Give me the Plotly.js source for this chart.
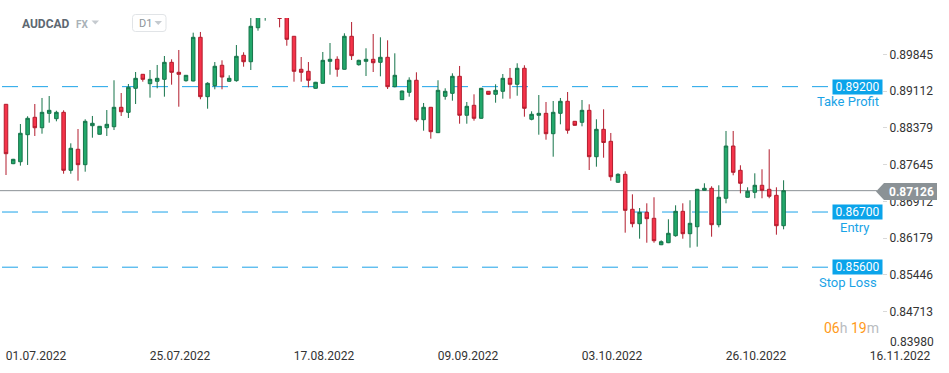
<!DOCTYPE html>
<html>
<head>
<meta charset="utf-8">
<script src="https://cdn.plot.ly/plotly-3.0.1.min.js"></script>
<style>html,body{margin:0;padding:0;background:#fff;}#chart{width:949px;height:373px;}</style>
</head>
<body>
<div id="chart"></div>
<script>
// ---- data (AUDCAD, D1) ----
const open  = [0.88848,0.87664,0.87703,0.88242,0.88589,0.88381,0.88668,0.88561,0.88688,0.87532,
0.87951,0.87644,0.88421,0.88250,0.88381,0.88401,0.88788,0.88688,0.89167,0.89446,
0.89259,0.89307,0.89346,0.89685,0.89486,0.89319,0.89313,0.90184,0.89000,0.89219,
0.89626,0.89307,0.89319,0.89825,0.89697,0.90375,0.90700,0.90880,0.90850,0.90650,
0.90204,0.89546,0.89506,0.89167,0.89267,0.89705,0.89745,0.89546,0.90204,0.89638,
0.89705,0.89745,0.89685,0.89785,0.89199,0.88940,0.89087,0.89327,0.88541,0.88788,
0.88282,0.89007,0.89067,0.89406,0.88629,0.88828,0.88569,0.89107,0.89047,0.89107,
0.89366,0.89247,0.89566,0.88549,0.88629,0.88668,0.88262,0.88668,0.88908,0.88509,
0.88489,0.88728,0.87803,0.88349,0.88110,0.87293,0.87452,0.86754,0.86467,0.86694,
0.86575,0.86048,0.86088,0.86228,0.86714,0.86268,0.86407,0.87133,0.87173,0.86447,
0.86974,0.88016,0.87532,0.86994,0.87093,0.87233,0.87153,0.87033,0.86427];
const high  = [0.88850,0.87760,0.88455,0.88609,0.88854,0.88974,0.89013,0.88720,0.88728,0.88070,
0.88355,0.88549,0.88615,0.88415,0.88734,0.89327,0.89073,0.89253,0.89492,0.89450,
0.89532,0.89632,0.89811,0.89745,0.89931,0.89430,0.90276,0.90290,0.89287,0.89691,
0.89725,0.89426,0.90030,0.89885,0.90609,0.90700,0.91000,0.90920,0.90950,0.90700,
0.90210,0.89791,0.89691,0.89295,0.89891,0.90070,0.89805,0.90264,0.90489,0.89737,
0.89965,0.90250,0.90184,0.90124,0.89865,0.89120,0.89386,0.89486,0.88874,0.88795,
0.89327,0.89167,0.89466,0.89612,0.88894,0.89047,0.89175,0.89110,0.89247,0.89452,
0.89572,0.89666,0.89626,0.88708,0.89033,0.88894,0.88914,0.88974,0.89093,0.88515,
0.88934,0.88848,0.88549,0.88748,0.88276,0.87472,0.87512,0.87053,0.86780,0.86874,
0.86994,0.86136,0.86555,0.86834,0.86874,0.86934,0.87160,0.87273,0.87213,0.87233,
0.88316,0.88316,0.87632,0.87193,0.87472,0.87552,0.87951,0.87193,0.87333];
const low   = [0.87438,0.87655,0.87624,0.87638,0.88216,0.88262,0.88481,0.88509,0.87464,0.87464,
0.87325,0.87504,0.88182,0.88245,0.88216,0.88335,0.88615,0.88575,0.88854,0.89299,
0.88980,0.89167,0.89000,0.89239,0.88800,0.89299,0.89305,0.88948,0.88760,0.89147,
0.89147,0.89293,0.89299,0.89598,0.89532,0.90316,0.90515,0.90860,0.90383,0.90016,
0.89299,0.89299,0.89187,0.89160,0.89260,0.89438,0.89398,0.89540,0.89731,0.89618,
0.89412,0.89492,0.89406,0.89153,0.89187,0.88935,0.89000,0.88501,0.88322,0.88162,
0.88275,0.88940,0.88920,0.88461,0.88461,0.88521,0.88560,0.89040,0.88880,0.88960,
0.88960,0.89019,0.88601,0.88529,0.88242,0.88142,0.87803,0.88449,0.88262,0.88420,
0.88409,0.87538,0.87604,0.87783,0.87325,0.87285,0.86288,0.86395,0.86168,0.86088,
0.86088,0.86040,0.86080,0.86208,0.86168,0.85989,0.86009,0.87125,0.86208,0.86395,
0.86874,0.87432,0.87073,0.86990,0.86974,0.86974,0.86974,0.86248,0.86355];
const close = [0.87863,0.87751,0.88270,0.88569,0.88381,0.88688,0.88728,0.88688,0.87532,0.87971,
0.87644,0.88509,0.88469,0.88409,0.88449,0.88788,0.88700,0.89187,0.89366,0.89346,
0.89346,0.89366,0.89685,0.89486,0.89446,0.89426,0.90184,0.89000,0.89267,0.89606,
0.89392,0.89366,0.89805,0.89697,0.90403,0.90650,0.90900,0.90900,0.90559,0.90144,
0.89506,0.89486,0.89327,0.89287,0.89725,0.89745,0.89546,0.90204,0.89817,0.89725,
0.89745,0.89677,0.89785,0.89199,0.89426,0.89113,0.89327,0.88541,0.88788,0.88302,
0.89127,0.89107,0.89406,0.88629,0.88808,0.88569,0.89167,0.89047,0.89127,0.89366,
0.89247,0.89566,0.88768,0.88649,0.88668,0.88262,0.88688,0.88908,0.88330,0.88429,
0.88728,0.87803,0.88349,0.88086,0.87404,0.87452,0.86734,0.86467,0.86694,0.86567,
0.86128,0.86108,0.86276,0.86714,0.86268,0.86475,0.87153,0.87173,0.86447,0.86994,
0.88016,0.87492,0.87273,0.87113,0.87233,0.87133,0.87014,0.86427,0.87126];

const dateLabels = ['01.07.2022','25.07.2022','17.08.2022','09.09.2022','03.10.2022','26.10.2022','16.11.2022'];
const dateTickIdx = [0,20,40,60,80,100,120];
const yTicks = [0.83980,0.84713,0.85446,0.86179,0.86912,0.87645,0.88379,0.89112,0.89845];
const levelNames  = ['Take Profit','Entry','Stop Loss'];
const levelValues = [0.89200,0.86700,0.85600];
const currentPrice = 0.87126;
const symbol = 'AUDCAD', market = 'FX', timeframe = 'D1';
const timerHours = '06', timerMinutes = '19';

// ---- layout helpers (pixel -> paper) ----
const W = 882, T = 18, B = 345;
const px = x => x / W;
const py = y => (B - y) / (B - T);
const idx = open.map((_, i) => i);
const FONT = 'Roboto, "Open Sans", Arial, sans-serif';

const trace = {
  type: 'candlestick', x: idx, open: open, high: high, low: low, close: close,
  increasing: {line: {color: '#16744a', width: 1}, fillcolor: '#22a86b'},
  decreasing: {line: {color: '#b31d2e', width: 1}, fillcolor: '#f5334a'},
  whiskerwidth: 0, hoverinfo: 'skip', showlegend: false
};

const shapes = [];
const annotations = [];
function note(o) {
  annotations.push(Object.assign({showarrow: false, xanchor: 'center', yanchor: 'middle'}, o));
}
const levelLabelCenters = [848, 855, 848];
levelValues.forEach((v, i) => {
  shapes.push({type: 'line', xref: 'paper', yref: 'y', x0: px(2), x1: px(828), y0: v, y1: v,
    line: {color: '#1ca3e8', width: 1, dash: '16px,14px'}, layer: 'below'});
  note({xref: 'paper', yref: 'y', x: px(857.5), y: v, text: v.toFixed(5),
    bgcolor: '#0ba4ea', width: 49, height: 14, borderpad: 0,
    font: {family: FONT, size: 12, color: '#ffffff'}});
  note({xref: 'paper', yref: 'y', x: px(levelLabelCenters[i]), y: v, yshift: -15,
    text: levelNames[i], font: {family: FONT, size: 13, color: '#1aa3e6'}});
});

// current price line + tag
shapes.push({type: 'line', xref: 'paper', yref: 'y', x0: 0, x1: px(877), y0: currentPrice, y1: currentPrice,
  line: {color: '#8b9196', width: 1}, layer: 'below'});
shapes.push({type: 'path', xref: 'paper', yref: 'paper', layer: 'above',
  path: `M${px(876)},${py(191.5)} L${px(884)},${py(183)} L${px(937)},${py(183)} L${px(937)},${py(200)} L${px(884)},${py(200)} Z`,
  fillcolor: '#8b9296', line: {width: 0}});
note({xref: 'paper', yref: 'paper', x: px(911), y: py(191.5), text: '<b>' + currentPrice.toFixed(5) + '</b>',
  font: {family: FONT, size: 12, color: '#ffffff'}});

// bottom y tick label (displaced above date row)
note({xref: 'paper', yref: 'paper', x: px(888), xanchor: 'left', y: py(342), text: yTicks[0].toFixed(5),
  font: {family: FONT, size: 12, color: '#333333'}});

// timer
note({xref: 'paper', yref: 'paper', x: px(881), xanchor: 'right', y: py(328),
  text: `<span style="color:#ff9a1a">${timerHours}</span><span style="color:#b9bcbf">h</span> <span style="color:#ff9a1a">${timerMinutes}</span><span style="color:#b9bcbf">m</span>`,
  font: {family: FONT, size: 14}});

// header
note({xref: 'paper', yref: 'paper', x: px(20), xanchor: 'left', y: py(23.5), text: '<b>' + symbol + '</b>',
  font: {family: FONT, size: 12, color: '#5d6872'}});
note({xref: 'paper', yref: 'paper', x: px(74), xanchor: 'left', y: py(24.5), text: '<b>' + market + '</b>',
  font: {family: FONT, size: 10, color: '#a9b1b7'}});
shapes.push({type: 'path', xref: 'paper', yref: 'paper', layer: 'above',
  path: `M${px(91.5)},${py(20.5)} L${px(99)},${py(20.5)} L${px(95.25)},${py(24.5)} Z`, fillcolor: '#c5cacf', line: {width: 0}});
const bx0 = 132.5, bx1 = 166, by0 = 14.5, by1 = 31.5, r = 3;
shapes.push({type: 'path', xref: 'paper', yref: 'paper', layer: 'above',
  path: `M${px(bx0 + r)},${py(by0)} L${px(bx1 - r)},${py(by0)} Q${px(bx1)},${py(by0)} ${px(bx1)},${py(by0 + r)} L${px(bx1)},${py(by1 - r)} Q${px(bx1)},${py(by1)} ${px(bx1 - r)},${py(by1)} L${px(bx0 + r)},${py(by1)} Q${px(bx0)},${py(by1)} ${px(bx0)},${py(by1 - r)} L${px(bx0)},${py(by0 + r)} Q${px(bx0)},${py(by0)} ${px(bx0 + r)},${py(by0)} Z`,
  fillcolor: 'rgba(255,255,255,0)', line: {color: '#e1e4e7', width: 1}});
note({xref: 'paper', yref: 'paper', x: px(136.5), xanchor: 'left', y: py(23.5), text: timeframe,
  font: {family: FONT, size: 11, color: '#8d959b'}});
shapes.push({type: 'path', xref: 'paper', yref: 'paper', layer: 'above',
  path: `M${px(154.5)},${py(21)} L${px(162)},${py(21)} L${px(158.25)},${py(25)} Z`, fillcolor: '#c5cacf', line: {width: 0}});

const layout = {
  width: 949, height: 373,
  margin: {l: 0, r: 949 - W, t: T, b: 373 - B, pad: 0},
  paper_bgcolor: '#ffffff', plot_bgcolor: '#ffffff',
  showlegend: false,
  xaxis: {
    type: 'linear', range: [-6 / 7.2, (W - 6) / 7.2],
    tickmode: 'array', tickvals: dateTickIdx, ticktext: dateLabels,
    showgrid: false, zeroline: false, showline: false, ticks: '',
    ticklabelshift: 30, ticklabelstandoff: 2,
    tickfont: {family: FONT, size: 12, color: '#333333'},
    rangeslider: {visible: false}, fixedrange: true
  },
  yaxis: {
    side: 'right', range: [0.840484, 0.905688],
    tickmode: 'array', tickvals: yTicks, tickformat: '.5f',
    showgrid: false, zeroline: false, showline: false,
    ticks: 'outside', ticklen: 4, tickcolor: '#d9d9d9', tickwidth: 1,
    tickfont: {family: FONT, size: 12, color: '#333333'}, fixedrange: true
  },
  shapes: shapes,
  annotations: annotations
};

Plotly.newPlot('chart', [trace], layout, {displayModeBar: false, staticPlot: true});
</script>
</body>
</html>
